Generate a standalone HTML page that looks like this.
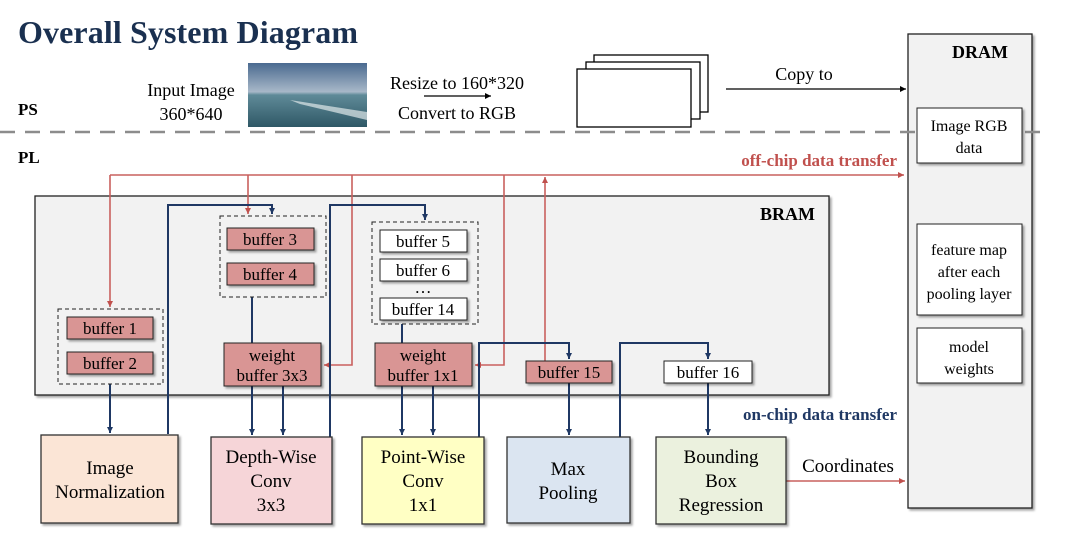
<!DOCTYPE html>
<html><head><meta charset="utf-8"><style>
html,body{margin:0;padding:0;background:#fff;}
svg{display:block;font-family:"Liberation Serif",serif;}
</style></head><body>
<svg width="1080" height="535" viewBox="0 0 1080 535" xmlns="http://www.w3.org/2000/svg">
<defs>
<marker id="ar" markerWidth="8" markerHeight="8" refX="6" refY="3" orient="auto" markerUnits="userSpaceOnUse"><path d="M0,0 L6,3 L0,6z" fill="#c0504d"/></marker>
<marker id="ab" markerWidth="8" markerHeight="8" refX="6" refY="3" orient="auto" markerUnits="userSpaceOnUse"><path d="M0,0 L6,3 L0,6z" fill="#1f3864"/></marker>
<marker id="ak" markerWidth="8" markerHeight="8" refX="6" refY="3" orient="auto" markerUnits="userSpaceOnUse"><path d="M0,0 L6,3 L0,6z" fill="#000"/></marker>
<filter id="sh" x="-10%" y="-10%" width="130%" height="130%"><feDropShadow dx="2" dy="2" stdDeviation="1" flood-color="#000" flood-opacity="0.35"/></filter>
<linearGradient id="img" x1="0" y1="0" x2="0" y2="1">
<stop offset="0" stop-color="#4a6a90"/><stop offset="0.45" stop-color="#a8b8c8"/><stop offset="0.5" stop-color="#5f8a98"/><stop offset="1" stop-color="#2f5866"/></linearGradient>
</defs>

<text x="18" y="43" font-size="32" font-weight="bold" fill="#1a3050" textLength="340">Overall System Diagram</text>
<text x="18" y="115" font-size="17" font-weight="bold">PS</text>
<text x="18" y="163" font-size="17" font-weight="bold">PL</text>

<text x="191" y="96" font-size="18" text-anchor="middle">Input Image</text>
<text x="191" y="120" font-size="18" text-anchor="middle">360*640</text>
<rect x="248" y="63" width="119" height="64" fill="url(#img)"/>
<path d="M290,100 L367,112 L367,120 L300,104z" fill="#dfe8ea" opacity="0.7"/>
<text x="457" y="89" font-size="18" text-anchor="middle">Resize to 160*320</text>
<line x1="424" y1="96" x2="491" y2="96" stroke="#000" stroke-width="1.2" marker-end="url(#ak)"/>
<text x="457" y="119" font-size="18" text-anchor="middle">Convert to RGB</text>

<rect x="594" y="55" width="114" height="57" fill="#fff" stroke="#000" stroke-width="1.3"/>
<rect x="586" y="62" width="114" height="57" fill="#fff" stroke="#000" stroke-width="1.3"/>
<rect x="577" y="69" width="114" height="58" fill="#fff" stroke="#000" stroke-width="1.3"/>
<text x="804" y="80" font-size="18" text-anchor="middle">Copy to</text>
<line x1="726" y1="89" x2="906" y2="89" stroke="#000" stroke-width="1.2" marker-end="url(#ak)"/>

<rect x="908" y="34" width="124" height="474" fill="#f2f2f2" stroke="#222" stroke-width="1.3" filter="url(#sh)"/>
<text x="980" y="58" font-size="18" font-weight="bold" text-anchor="middle">DRAM</text>
<line x1="0" y1="132" x2="1045" y2="132" stroke="#8c8c8c" stroke-width="2.5" stroke-dasharray="15,10"/>
<rect x="917" y="108" width="105" height="55" fill="#fff" stroke="#222" filter="url(#sh)"/>
<text x="969" y="131" font-size="16" text-anchor="middle">Image RGB</text>
<text x="969" y="153" font-size="16" text-anchor="middle">data</text>
<rect x="917" y="224" width="105" height="91" fill="#fff" stroke="#222" filter="url(#sh)"/>
<text x="969" y="255" font-size="16" text-anchor="middle">feature map</text>
<text x="969" y="277" font-size="16" text-anchor="middle">after each</text>
<text x="969" y="299" font-size="16" text-anchor="middle">pooling layer</text>
<rect x="917" y="328" width="105" height="55" fill="#fff" stroke="#222" filter="url(#sh)"/>
<text x="969" y="352" font-size="16" text-anchor="middle">model</text>
<text x="969" y="374" font-size="16" text-anchor="middle">weights</text>

<rect x="35" y="196" width="794" height="199" fill="#f2f2f2" stroke="#222" stroke-width="1.3" filter="url(#sh)"/>
<text x="815" y="220" font-size="18" font-weight="bold" text-anchor="end">BRAM</text>

<text x="897" y="166" font-size="17" font-weight="bold" fill="#c0504d" text-anchor="end">off-chip data transfer</text>
<g stroke="#c9605e" stroke-width="1.6" fill="none">
<line x1="110" y1="175" x2="904" y2="175" marker-end="url(#ar)"/>
<line x1="110" y1="175" x2="110" y2="307" marker-end="url(#ar)"/>
<line x1="248" y1="175" x2="248" y2="214" marker-end="url(#ar)"/>
<polyline points="352,175 352,365 324,365" marker-end="url(#ar)"/>
<polyline points="504,175 504,365 475,365" marker-end="url(#ar)"/>
<line x1="545" y1="361" x2="545" y2="177" marker-end="url(#ar)"/>
<line x1="786" y1="481" x2="905" y2="481" marker-end="url(#ar)"/>
</g>

<g stroke="#1f3864" stroke-width="2" fill="none">
<line x1="110" y1="384" x2="110" y2="433" marker-end="url(#ab)"/>
<polyline points="168,434 168,205 272,205 272,214" marker-end="url(#ab)"/>
<line x1="252" y1="297" x2="252" y2="343"/>
<line x1="252" y1="386" x2="252" y2="435" marker-end="url(#ab)"/>
<line x1="283" y1="386" x2="283" y2="435" marker-end="url(#ab)"/>
<polyline points="330,437 330,205 425,205 425,220" marker-end="url(#ab)"/>
<line x1="402" y1="324" x2="402" y2="343"/>
<line x1="402" y1="386" x2="402" y2="435" marker-end="url(#ab)"/>
<line x1="433" y1="386" x2="433" y2="435" marker-end="url(#ab)"/>
<polyline points="479,437 479,343 569,343 569,359" marker-end="url(#ab)"/>
<line x1="569" y1="383" x2="569" y2="435" marker-end="url(#ab)"/>
<polyline points="620,437 620,343 708,343 708,359" marker-end="url(#ab)"/>
<line x1="708" y1="383" x2="708" y2="435" marker-end="url(#ab)"/>
</g>
<text x="897" y="420" font-size="17" font-weight="bold" fill="#1f3864" text-anchor="end">on-chip data transfer</text>

<g fill="none" stroke="#222" stroke-width="1" stroke-dasharray="4,3">
<rect x="58" y="309" width="105" height="75"/>
<rect x="220" y="216" width="106" height="81"/>
<rect x="372" y="222" width="106" height="102"/>
</g>

<g font-size="17" text-anchor="middle">
<g fill="#d99594" stroke="#222" filter="url(#sh)">
<rect x="67" y="317" width="86" height="22"/>
<rect x="67" y="352" width="86" height="22"/>
<rect x="227" y="228" width="87" height="22"/>
<rect x="227" y="263" width="87" height="22"/>
<rect x="224" y="343" width="97" height="43"/>
<rect x="375" y="343" width="97" height="43"/>
<rect x="526" y="361" width="86" height="22"/>
</g>
<g fill="#fff" stroke="#222" filter="url(#sh)">
<rect x="380" y="230" width="87" height="22"/>
<rect x="380" y="259" width="87" height="22"/>
<rect x="380" y="298" width="87" height="22"/>
<rect x="664" y="361" width="88" height="22"/>
</g>
<text x="110" y="334">buffer 1</text>
<text x="110" y="369">buffer 2</text>
<text x="270" y="245">buffer 3</text>
<text x="270" y="280">buffer 4</text>
<text x="272" y="361">weight</text>
<text x="272" y="381">buffer 3x3</text>
<text x="423" y="361">weight</text>
<text x="423" y="381">buffer 1x1</text>
<text x="423" y="247">buffer 5</text>
<text x="423" y="276">buffer 6</text>
<text x="423" y="293">…</text>
<text x="423" y="315">buffer 14</text>
<text x="569" y="378">buffer 15</text>
<text x="708" y="378">buffer 16</text>
</g>

<g stroke="#333" stroke-width="1.3" filter="url(#sh)">
<rect x="41" y="435" width="137" height="88" fill="#fbe5d6"/>
<rect x="211" y="437" width="121" height="87" fill="#f6d5d8"/>
<rect x="362" y="437" width="122" height="87" fill="#ffffc4"/>
<rect x="507" y="437" width="123" height="86" fill="#dbe5f1"/>
<rect x="656" y="437" width="130" height="87" fill="#ebf1de"/>
</g>
<g font-size="19" text-anchor="middle">
<text x="110" y="474">Image</text>
<text x="110" y="498">Normalization</text>
<text x="271" y="463">Depth-Wise</text>
<text x="271" y="487">Conv</text>
<text x="271" y="511">3x3</text>
<text x="423" y="463">Point-Wise</text>
<text x="423" y="487">Conv</text>
<text x="423" y="511">1x1</text>
<text x="568" y="475">Max</text>
<text x="568" y="499">Pooling</text>
<text x="721" y="463">Bounding</text>
<text x="721" y="487">Box</text>
<text x="721" y="511">Regression</text>
<text x="848" y="472">Coordinates</text>
</g>
</svg>
</body></html>
